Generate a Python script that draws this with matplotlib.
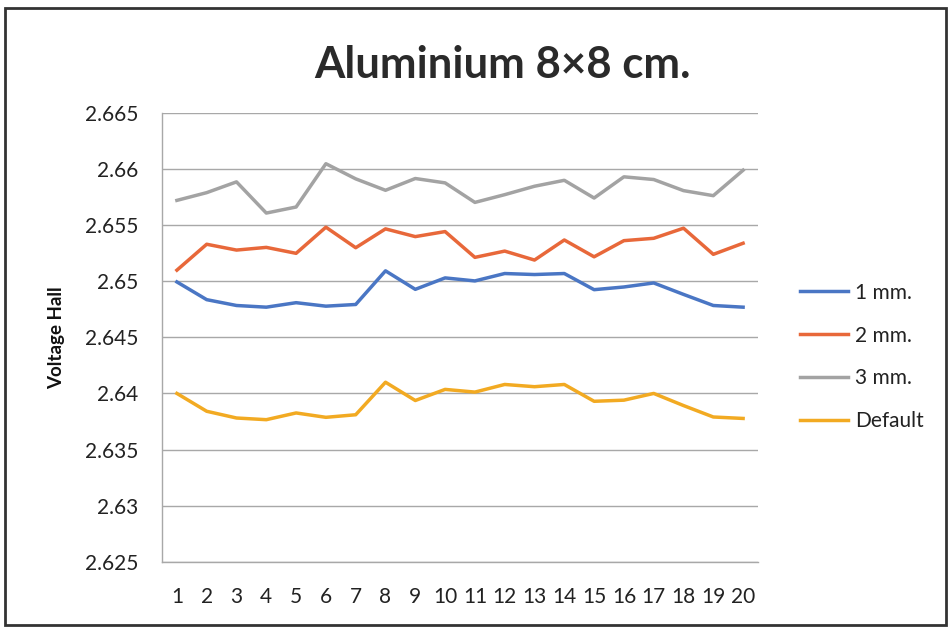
import matplotlib
matplotlib.use("Agg")
import matplotlib.pyplot as plt
from matplotlib.patches import Rectangle

plt.rcParams['font.family'] = ['Lato', 'DejaVu Sans']

x = list(range(1, 21))
series_1mm = [2.64994, 2.64836, 2.64784, 2.64769, 2.64809, 2.64778, 2.64793, 2.65093, 2.64928, 2.65030,
              2.65003, 2.65069, 2.65060, 2.65069, 2.64925, 2.64949, 2.64985, 2.64883, 2.64784, 2.64769]
series_2mm = [2.65099, 2.65330, 2.65278, 2.65302, 2.65249, 2.65482, 2.65299, 2.65467, 2.65398, 2.65443,
              2.65213, 2.65269, 2.65189, 2.65368, 2.65218, 2.65362, 2.65383, 2.65473, 2.65240, 2.65339]
series_3mm = [2.65721, 2.65790, 2.65886, 2.65608, 2.65662, 2.66048, 2.65913, 2.65811, 2.65916, 2.65877,
              2.65703, 2.65772, 2.65847, 2.65900, 2.65742, 2.65931, 2.65907, 2.65808, 2.65763, 2.65990]
series_default = [2.64000, 2.63841, 2.63781, 2.63766, 2.63826, 2.63787, 2.63810, 2.64100, 2.63937, 2.64036,
                  2.64012, 2.64080, 2.64060, 2.64080, 2.63930, 2.63940, 2.64000, 2.63892, 2.63790, 2.63777]
labels = ['1 mm.', '2 mm.', '3 mm.', 'Default']
colors = ['#4A76C4', '#E8683A', '#A3A3A3', '#F2AA22']
yticks = [2.625, 2.63, 2.635, 2.64, 2.645, 2.65, 2.655, 2.66, 2.665]
ytick_labels = ['2.625', '2.63', '2.635', '2.64', '2.645', '2.65', '2.655', '2.66', '2.665']

fig = plt.figure(figsize=(9.51, 6.27), dpi=100)
ax = fig.add_axes([162/951, 1 - 561.7/627, 596/951, 448.7/627])

for s, lab, c in zip([series_1mm, series_2mm, series_3mm, series_default], labels, colors):
    ax.plot(x, s, color=c, lw=2.5, label=lab, solid_joinstyle='round')

ax.set_xlim(0.5, 20.5)
ax.set_ylim(2.625, 2.665)
ax.set_yticks(yticks)
ax.set_yticklabels(ytick_labels)
ax.set_xticks(x)
ax.set_xticklabels([str(v) for v in x])
ax.tick_params(axis='both', length=0, labelsize=15, colors='#222222')
ax.tick_params(axis='y', pad=17)
ax.tick_params(axis='x', pad=18)
ax.grid(axis='y', color='#A8A8A8', lw=1)
ax.set_axisbelow(True)
for sp in ['top', 'right']:
    ax.spines[sp].set_visible(False)
for sp in ['left', 'bottom']:
    ax.spines[sp].set_color('#A8A8A8')
    ax.spines[sp].set_linewidth(1)

ax.set_ylabel('Voltage Hall', fontsize=13.5, fontweight='bold', color='#111111')
ax.yaxis.set_label_coords(-0.162, 0.5)

fig.text(502/951, 1 - 65/627, 'Aluminium 8×8 cm.', ha='center', va='center',
         fontsize=31.5, fontweight='bold', color='#2A2A2A')

leg = fig.legend(loc='center left', bbox_to_anchor=(781/951, 1 - 357/627), frameon=False,
                 fontsize=15, handlelength=2.3, handletextpad=0.35, labelspacing=1.1)
for t in leg.get_texts():
    t.set_color('#222222')

fig.patches.append(Rectangle((5/951, 2/627), 941/951, 617/627, transform=fig.transFigure,
                             fill=False, edgecolor='#333333', lw=2))

fig.savefig('out.png', dpi=100)
